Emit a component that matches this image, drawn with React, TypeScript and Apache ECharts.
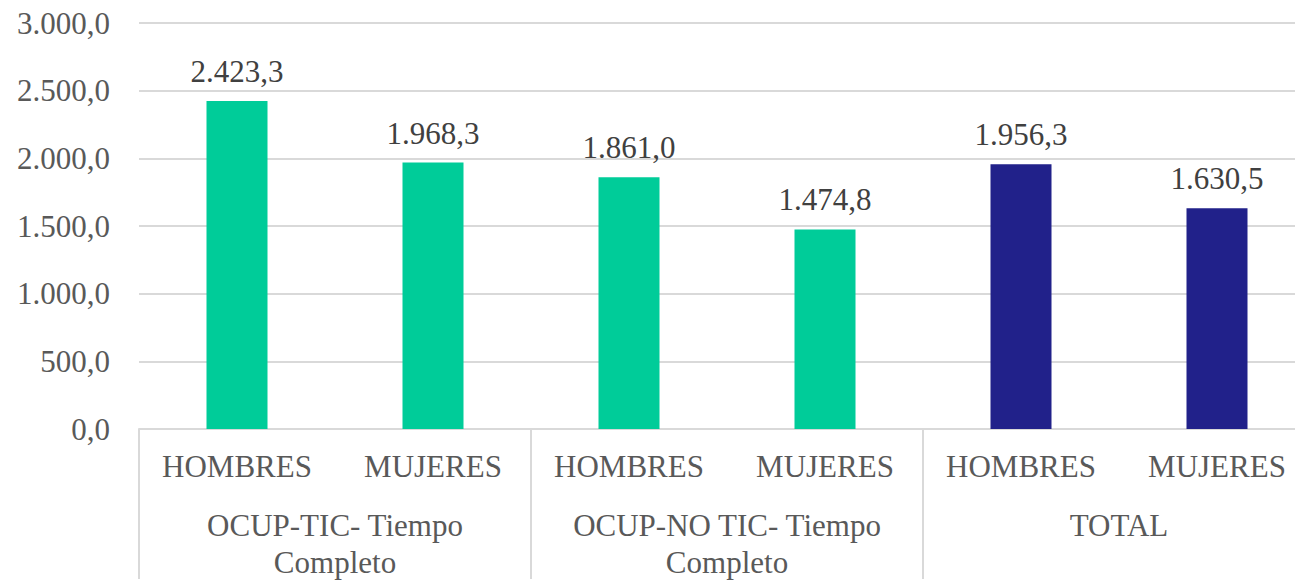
import React, { useEffect, useRef } from "react";
import * as echarts from "echarts";

const categories = ["HOMBRES", "MUJERES", "HOMBRES", "MUJERES", "HOMBRES", "MUJERES"];
const groups = ["OCUP-TIC- Tiempo\nCompleto", "OCUP-NO TIC- Tiempo\nCompleto", "TOTAL"];
const values = [2423.3, 1968.3, 1861.0, 1474.8, 1956.3, 1630.5];
const barColors = ["#00CC99", "#00CC99", "#00CC99", "#00CC99", "#21218A", "#21218A"];
const yTicks = { min: 0, max: 3000, interval: 500 };

const FONT = "Times New Roman, Liberation Serif, DejaVu Serif, serif";

function fmt(v: number): string {
  const fixed = v.toFixed(1);
  const [intPart, dec] = fixed.split(".");
  const withDots = intPart.replace(/\B(?=(\d{3})+(?!\d))/g, ".");
  return `${withDots},${dec}`;
}

export default function App() {
  const ref = useRef<HTMLDivElement>(null);
  useEffect(() => {
    if (!ref.current) return;
    const chart = echarts.init(ref.current, undefined, { renderer: "svg" });
    chart.setOption({
      animation: false,
      backgroundColor: "#ffffff",
      textStyle: { fontFamily: FONT },
      grid: { left: 139, right: 0, top: 23, bottom: 146.5 },
      xAxis: [
        {
          type: "category",
          data: categories,
          position: "bottom",
          axisLine: { show: true, lineStyle: { color: "#d9d9d9", width: 2 } },
          axisTick: { show: false },
          axisLabel: {
            interval: 0,
            margin: 22,
            color: "#595959",
            fontFamily: FONT,
            fontSize: 31,
          },
        },
        {
          type: "category",
          data: groups,
          position: "bottom",
          offset: 0,
          axisLine: { show: false },
          axisTick: {
            show: true,
            length: 150,
            lineStyle: { color: "#d9d9d9", width: 2 },
          },
          axisLabel: {
            interval: 0,
            margin: 78,
            color: "#595959",
            fontFamily: FONT,
            fontSize: 31,
            lineHeight: 37,
          },
        },
      ],
      yAxis: {
        type: "value",
        min: yTicks.min,
        max: yTicks.max,
        interval: yTicks.interval,
        axisLine: { show: false },
        axisTick: { show: false },
        splitLine: { lineStyle: { color: "#d9d9d9", width: 2 } },
        axisLabel: {
          margin: 29,
          color: "#595959",
          fontFamily: FONT,
          fontSize: 31,
          formatter: (v: number) => fmt(v),
        },
      },
      series: [
        {
          type: "bar",
          xAxisIndex: 0,
          barWidth: 61,
          data: values.map((v, i) => ({ value: v, itemStyle: { color: barColors[i] } })),
          label: {
            show: true,
            position: "top",
            distance: 14,
            color: "#404040",
            fontFamily: FONT,
            fontSize: 31,
            formatter: (p: any) => fmt(p.value),
          },
        },
      ],
    });
    return () => chart.dispose();
  }, []);
  return (
    <div style={{ position: "fixed", left: 0, top: 0, width: 1295, height: 581, overflow: "hidden", background: "#fff" }}>
      <div ref={ref} style={{ width: 1315, height: 581 }} />
    </div>
  );
}
